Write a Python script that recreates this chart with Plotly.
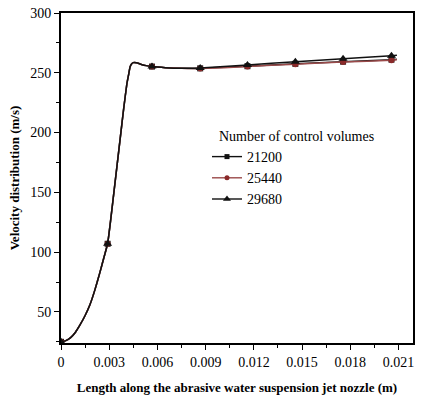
import plotly.graph_objects as go

# Positions along the nozzle (m)
x_len = [0, 0.0003, 0.0006, 0.0009, 0.0012, 0.0015, 0.0018, 0.0021, 0.0024, 0.0027,
         0.0029, 0.0031, 0.0033, 0.0035, 0.0037, 0.0039, 0.0041, 0.0042, 0.0043, 0.0044,
         0.0045, 0.0047, 0.0050, 0.0053, 0.00566, 0.0065, 0.0075, 0.00866, 0.0116,
         0.01458, 0.01755, 0.02056, 0.0209]

ramp = [25, 26, 28.5, 33, 39.5, 47, 56, 68, 82, 97,
        107, 128, 151, 174, 197, 220, 241, 248, 255, 257.5,
        258.5, 258.3, 257, 256, 255.2, 254.3, 253.8]

v_21200 = ramp + [253.7, 255.5, 257.5, 259.3, 261.0, 261.3]
v_25440 = ramp + [253.5, 255.2, 257.2, 259.0, 260.5, 260.8]
v_29680 = ramp + [254.0, 256.5, 259.3, 261.8, 264.3, 264.6]

marker_idx = [0, 10, 24, 27, 28, 29, 30, 31]

series_names = ["21200", "25440", "29680"]
series_vals = [v_21200, v_25440, v_29680]
line_colors = ["#111111", "#9a4a4a", "#111111"]
marker_colors = ["#111111", "#8a2a2a", "#111111"]
symbols = ["square", "circle", "triangle-up"]
marker_sizes = [6, 6, 8]

x_ticks = [0, 0.003, 0.006, 0.009, 0.012, 0.015, 0.018, 0.021]
x_tick_text = ["0", "0.003", "0.006", "0.009", "0.012", "0.015", "0.018", "0.021"]
y_ticks = [50, 100, 150, 200, 250, 300]

legend_title = "Number of control volumes"

FONT = "Liberation Serif"

fig = go.Figure()
for name, vals, lc, mc, sym, ms in zip(series_names, series_vals, line_colors,
                                        marker_colors, symbols, marker_sizes):
    fig.add_trace(go.Scatter(x=x_len, y=vals, mode="lines",
                             line=dict(color=lc, width=1.5, shape="spline", smoothing=0.4),
                             showlegend=False, hoverinfo="skip"))
    fig.add_trace(go.Scatter(x=[x_len[i] for i in marker_idx],
                             y=[vals[i] for i in marker_idx], mode="markers",
                             marker=dict(symbol=sym, color=mc, size=ms),
                             showlegend=False))
    fig.add_trace(go.Scatter(x=[None], y=[None], mode="lines+markers", name=name,
                             line=dict(color=lc, width=1.4),
                             marker=dict(symbol=sym, color=mc, size=ms - 1)))

fig.add_annotation(text=legend_title, xref="paper", yref="paper",
                   x=(217 - 61) / 352, y=(343 - 136) / 330,
                   xanchor="left", yanchor="middle", showarrow=False,
                   font=dict(family=FONT, size=14, color="black"))

fig.update_layout(
    width=422, height=399,
    margin=dict(l=61, r=9, t=13, b=56),
    paper_bgcolor="white", plot_bgcolor="white",
    font=dict(family=FONT, size=14, color="black"),
    showlegend=True,
    legend=dict(
        x=(207 - 61) / 352, y=(343 - 141) / 330, xanchor="left", yanchor="top",
        bgcolor="rgba(0,0,0,0)", font=dict(family=FONT, size=14),
        itemwidth=30,
    ),
)

fig.update_xaxes(
    range=[0, 0.0219], tickvals=x_ticks, ticktext=x_tick_text,
    showgrid=False, zeroline=False, automargin=False,
    showline=True, linecolor="black", linewidth=2, mirror=True,
    ticks="outside", ticklen=5, tickwidth=1.2, tickcolor="black",
    minor=dict(dtick=0.0015, tick0=0, ticks="outside", ticklen=3, tickcolor="black", tickwidth=1),
    tickfont=dict(family=FONT, size=14),
    title=dict(text="Length along the abrasive water suspension jet nozzle (m)",
               font=dict(family=FONT, size=13, weight="bold"), standoff=14),
)
fig.update_yaxes(
    range=[24, 300], tickvals=y_ticks,
    showgrid=False, zeroline=False, automargin=False,
    showline=True, linecolor="black", linewidth=2, mirror=True,
    ticks="outside", ticklen=5, tickwidth=1.2, tickcolor="black",
    minor=dict(dtick=25, tick0=0, ticks="outside", ticklen=3, tickcolor="black", tickwidth=1),
    tickfont=dict(family=FONT, size=14),
    title=dict(text="Velocity distribution (m/s)",
               font=dict(family=FONT, size=13, weight="bold"), standoff=8),
)

fig.write_html("out.html", config={"displayModeBar": False},
               post_script="document.body.style.margin='0';")
